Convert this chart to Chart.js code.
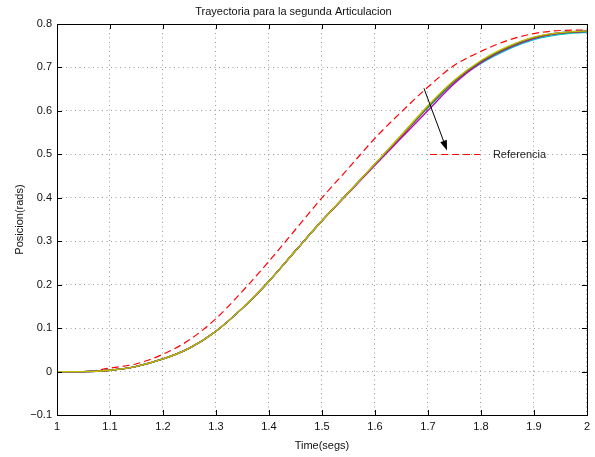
<!DOCTYPE html>
<html>
<head>
<meta charset="utf-8">
<script src="https://cdn.jsdelivr.net/npm/chart.js@4"></script>
<style>
  html, body { margin: 0; padding: 0; background: #fff; }
  #chart { display: block; }
</style>
</head>
<body>
<canvas id="chart" width="595" height="457"></canvas>
<script>
// time axis (segs) and positions (rads)
const timeSecs = [1.00,1.05,1.10,1.15,1.20,1.25,1.30,1.35,1.40,1.45,1.50,1.55,1.60,1.65,1.70,1.75,1.80,1.85,1.90,1.95,2.00];

const referencia = [0,0,0.008,0.018,0.040,0.073,0.122,0.185,0.254,0.327,0.400,0.468,0.537,0.598,0.655,0.705,0.737,0.762,0.778,0.785,0.786];

// joint trajectories (several runs, almost on top of each other)
const serieAzul     = [0,0,0.003,0.012,0.029,0.054,0.093,0.146,0.208,0.278,0.347,0.412,0.477,0.543,0.609,0.668,0.713,0.746,0.769,0.780,0.784];
const serieVerde    = [0,0,0.003,0.012,0.029,0.054,0.093,0.146,0.208,0.278,0.347,0.412,0.478,0.544,0.611,0.670,0.714,0.745,0.768,0.779,0.783];
const serieRoja     = [0,0,0.003,0.012,0.029,0.054,0.093,0.146,0.208,0.278,0.347,0.412,0.477,0.542,0.608,0.667,0.712,0.744,0.767,0.779,0.783];
const serieCian     = [0,0,0.003,0.012,0.029,0.054,0.093,0.146,0.208,0.278,0.347,0.412,0.477,0.543,0.607,0.666,0.709,0.741,0.764,0.776,0.781];
const serieMagenta  = [0,0,0.003,0.012,0.029,0.054,0.093,0.146,0.208,0.278,0.347,0.411,0.475,0.538,0.601,0.663,0.711,0.744,0.767,0.779,0.783];
const serieAmarilla = [0,0,0.003,0.012,0.029,0.054,0.093,0.146,0.208,0.278,0.347,0.412,0.478,0.545,0.612,0.671,0.716,0.748,0.770,0.780,0.784];
const serieGris     = [0,0,0.003,0.012,0.029,0.054,0.093,0.146,0.208,0.278,0.347,0.412,0.477,0.543,0.609,0.668,0.713,0.745,0.768,0.779,0.783];

const xTicks = [1,1.1,1.2,1.3,1.4,1.5,1.6,1.7,1.8,1.9,2];
const yTicks = [-0.1,0,0.1,0.2,0.3,0.4,0.5,0.6,0.7,0.8];

// legend entry + arrow, in data units
const legendLine = { x0: 1.704, x1: 1.798, y: 0.5, label: 'Referencia' };
const arrowFrom = { x: 1.6925, y: 0.652 };
const arrowTo = { x: 1.736, y: 0.509 };

const FONT = 'Liberation Sans, Arial, Helvetica, sans-serif';

function pts(vals) {
  return timeSecs.map((t, i) => ({ x: t, y: vals[i] }));
}

function runLine(label, vals, color) {
  return {
    label, data: pts(vals), borderColor: color, borderWidth: 1.3,
    pointRadius: 0, fill: false, cubicInterpolationMode: 'monotone'
  };
}

function fmt(v) {
  const s = String(Number(v.toFixed(1)));
  return s.replace('-', '\u2212');
}

// box, inward ticks, legend and arrow (MATLAB look)
const matlabFrame = {
  id: 'matlabFrame',
  afterDatasetsDraw(chart) {
    const { ctx, chartArea: a, scales: { x, y } } = chart;
    ctx.save();
    ctx.strokeStyle = '#000';
    ctx.lineWidth = 1;
    ctx.beginPath();
    xTicks.forEach(t => {
      const px = Math.round(x.getPixelForValue(t)) + 0.5;
      ctx.moveTo(px, a.bottom); ctx.lineTo(px, a.bottom - 5);
      ctx.moveTo(px, a.top); ctx.lineTo(px, a.top + 5);
    });
    yTicks.forEach(t => {
      const py = Math.round(y.getPixelForValue(t)) + 0.5;
      ctx.moveTo(a.left, py); ctx.lineTo(a.left + 5, py);
      ctx.moveTo(a.right, py); ctx.lineTo(a.right - 5, py);
    });
    ctx.stroke();
    ctx.strokeRect(Math.round(a.left) + 0.5, Math.round(a.top) + 0.5,
      Math.round(a.right - a.left), Math.round(a.bottom - a.top));

    // legend entry
    const ly = Math.round(y.getPixelForValue(legendLine.y)) + 0.5;
    ctx.strokeStyle = '#ff0000';
    ctx.setLineDash([7, 4]);
    ctx.beginPath();
    ctx.moveTo(x.getPixelForValue(legendLine.x0), ly);
    ctx.lineTo(x.getPixelForValue(legendLine.x1), ly);
    ctx.stroke();
    ctx.setLineDash([]);
    ctx.fillStyle = '#222';
    ctx.font = '11px ' + FONT;
    ctx.textBaseline = 'middle';
    ctx.fillText(legendLine.label, x.getPixelForValue(legendLine.x1) + 13, ly);

    // arrow
    const x0 = x.getPixelForValue(arrowFrom.x), y0 = y.getPixelForValue(arrowFrom.y);
    const x1 = x.getPixelForValue(arrowTo.x), y1 = y.getPixelForValue(arrowTo.y);
    const ang = Math.atan2(y1 - y0, x1 - x0);
    const hl = 10, hw = 3.5;
    const bx = x1 - hl * Math.cos(ang), by = y1 - hl * Math.sin(ang);
    ctx.strokeStyle = '#000';
    ctx.beginPath();
    ctx.moveTo(x0, y0); ctx.lineTo(bx, by);
    ctx.stroke();
    ctx.fillStyle = '#000';
    ctx.beginPath();
    ctx.moveTo(x1, y1);
    ctx.lineTo(bx + hw * Math.sin(ang), by - hw * Math.cos(ang));
    ctx.lineTo(bx - hw * Math.sin(ang), by + hw * Math.cos(ang));
    ctx.closePath();
    ctx.fill();
    ctx.restore();
  }
};

const gridStyle = { color: '#9a9a9a', lineWidth: 1, drawTicks: false };
// in Chart.js v4 the grid-line dash lives under "border"
const borderStyle = { display: false, dash: [1, 3.5] };

new Chart(document.getElementById('chart'), {
  type: 'line',
  data: {
    // first dataset is drawn on top
    datasets: [
      runLine('y', serieAmarilla, '#bfbf00'),
      runLine('k', serieGris, '#6b5f3a'),
      runLine('m', serieMagenta, '#bf00bf'),
      runLine('c', serieCian, '#00bfbf'),
      runLine('r', serieRoja, '#ff0000'),
      runLine('g', serieVerde, '#008000'),
      runLine('b', serieAzul, '#0000ff'),
      {
        label: 'Referencia', data: pts(referencia), borderColor: '#ff0000',
        borderWidth: 1.2, borderDash: [7, 4], pointRadius: 0, fill: false,
        cubicInterpolationMode: 'monotone'
      }
    ]
  },
  options: {
    responsive: false,
    animation: false,
    layout: { padding: { top: 0, right: 8, bottom: 0, left: 0 } },
    plugins: {
      legend: { display: false },
      tooltip: { enabled: false },
      title: {
        display: true,
        text: 'Trayectoria para la segunda Articulacion',
        color: '#111',
        font: { family: FONT, size: 11, weight: 'normal', lineHeight: 1.2 },
        padding: { top: 5.5, bottom: 5.3 }
      }
    },
    scales: {
      x: {
        type: 'linear', min: 1, max: 2,
        afterFit(s) { s.height = 42; },
        afterBuildTicks(s) { s.ticks = xTicks.map(v => ({ value: v })); },
        ticks: { callback: fmt, color: '#111', padding: 5, maxRotation: 0,
          font: { family: FONT, size: 11 } },
        grid: gridStyle,
        border: borderStyle,
        title: { display: true, text: 'Time(segs)', color: '#111',
          font: { family: FONT, size: 11, lineHeight: 1.2 },
          padding: { top: 0, bottom: 4.4 } }
      },
      y: {
        type: 'linear', min: -0.1, max: 0.8,
        afterFit(s) { s.width = 57; },
        afterBuildTicks(s) { s.ticks = yTicks.map(v => ({ value: v })); },
        ticks: { callback: fmt, color: '#111', padding: 5,
          font: { family: FONT, size: 11 } },
        grid: gridStyle,
        border: borderStyle,
        title: { display: true, text: 'Posicion(rads)', color: '#111',
          font: { family: FONT, size: 11, lineHeight: 1.2 },
          padding: { top: 13.4, bottom: 0 } }
      }
    }
  },
  plugins: [matlabFrame]
});
</script>
</body>
</html>
